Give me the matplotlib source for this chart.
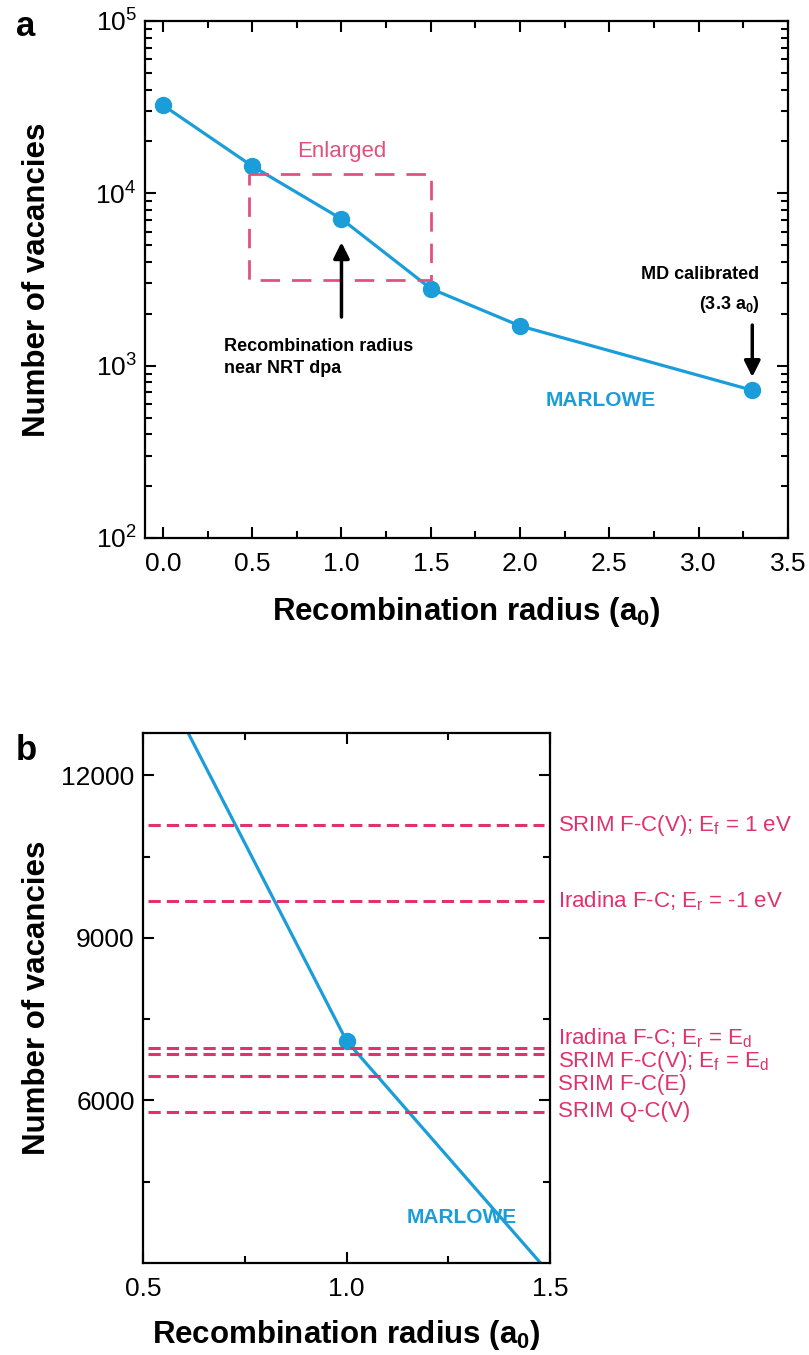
"""Vacancy count vs. recombination radius (MARLOWE) with an enlarged linear view."""
import matplotlib
matplotlib.use("Agg")
import matplotlib.pyplot as plt
from matplotlib.ticker import LogLocator, MultipleLocator, FixedLocator, NullFormatter

# MARLOWE vacancies for each recombination radius
radius = [0.0, 0.5, 1.0, 1.5, 2.0, 3.3]
vacancies = [32500, 14400, 7100, 2800, 1700, 720]

# reference (SRIM / Iradina) vacancy counts for panel b
ref_levels = [11080, 9685, 6960, 6865, 6455, 5790]
ref_labels = [
    r"SRIM F-C(V); E$_\mathrm{f}$ = 1 eV",
    r"Iradina F-C; E$_\mathrm{r}$ = -1 eV",
    r"Iradina F-C; E$_\mathrm{r}$ = E$_\mathrm{d}$",
    r"SRIM F-C(V); E$_\mathrm{f}$ = E$_\mathrm{d}$",
    r"SRIM F-C(E)",
    r"SRIM Q-C(V)",
]

BLUE = "#1b9dd9"
PINK = "#e0336d"
BOX_PINK = "#e2507f"
FONT = "Liberation Sans"

plt.rcParams["font.family"] = [FONT, "DejaVu Sans"]
plt.rcParams["mathtext.fontset"] = "custom"
plt.rcParams["mathtext.rm"] = FONT
plt.rcParams["mathtext.it"] = FONT + ":italic"
plt.rcParams["mathtext.bf"] = FONT + ":bold"

fig = plt.figure(figsize=(8.09, 13.55), dpi=100)
W, H = 809, 1355
XLABEL = r"Recombination radius (a$_{\mathbf{0}}$)"


def style_axes(ax):
    for sp in ax.spines.values():
        sp.set_linewidth(1.6)
    ax.tick_params(which="both", direction="in", top=True, right=True,
                   width=1.5, labelsize=19)
    ax.tick_params(axis="x", which="both", pad=10)
    ax.tick_params(axis="y", which="both", pad=6)
    ax.tick_params(which="major", length=8)
    ax.tick_params(which="minor", length=5)


# ---- panel a: log scale overview ----
ax_a = fig.add_axes([145 / W, 1 - 538 / H, (788 - 145) / W, (538 - 21) / H])
ax_a.plot(radius, vacancies, color=BLUE, lw=2.3, marker="o", ms=11.5)
ax_a.set_yscale("log")
ax_a.set_xlim(-0.1, 3.5)
ax_a.set_ylim(1e2, 1e5)
ax_a.xaxis.set_major_locator(MultipleLocator(0.5))
ax_a.xaxis.set_minor_locator(MultipleLocator(0.25))
ax_a.yaxis.set_major_locator(LogLocator(base=10, numticks=10))
ax_a.yaxis.set_minor_locator(LogLocator(base=10, subs=range(2, 10), numticks=10))
ax_a.yaxis.set_minor_formatter(NullFormatter())
style_axes(ax_a)
ax_a.set_xlabel(XLABEL, fontsize=22.5, fontweight="bold", labelpad=14)
ax_a.set_ylabel("Number of vacancies", fontsize=22.5, fontweight="bold")
ax_a.yaxis.set_label_coords(-0.145, 0.5)

# enlarged region box
box_x = [0.48, 1.5, 1.5, 0.48, 0.48]
box_y = [12900, 12900, 3150, 3150, 12900]
ax_a.plot(box_x, box_y, color=BOX_PINK, lw=2.0, dashes=(7, 4.3))
ax_a.text(1.0, 17600, "Enlarged", color=BOX_PINK, fontsize=16,
          ha="center", va="center")

arrow = dict(arrowstyle="-|>", color="black", lw=2.5, mutation_scale=24,
             shrinkA=0, shrinkB=0)
ax_a.annotate("", xy=(1.0, 5200), xytext=(1.0, 1915), arrowprops=arrow)
ax_a.text(0.34, 1450, "Recombination radius\nnear NRT dpa", fontsize=13,
          fontweight="bold", ha="left", va="top", linespacing=1.4)

ax_a.annotate("", xy=(3.3, 860), xytext=(3.3, 1720), arrowprops=arrow)
ax_a.text(3.34, 3360, "MD calibrated", fontsize=13, fontweight="bold",
          ha="right", va="center")
ax_a.text(3.34, 2250, r"(3.3 a$_{\mathbf{0}}$)", fontsize=13, fontweight="bold",
          ha="right", va="center")
ax_a.text(2.45, 630, "MARLOWE", color=BLUE, fontsize=15, fontweight="bold",
          ha="center", va="center")

fig.text(26 / W, 1 - 27 / H, "a", fontsize=25, fontweight="bold",
         ha="center", va="center")

# ---- panel b: linear zoom around 1 a0 ----
ax_b = fig.add_axes([143 / W, 1 - 1263 / H, (550 - 143) / W, (1263 - 733) / H])
ax_b.plot(radius, vacancies, color=BLUE, lw=2.3)
ax_b.plot(radius[2], vacancies[2], "o", color=BLUE, ms=11.5)
for lvl in ref_levels:
    ax_b.plot([0.513, 1.485], [lvl, lvl], color=PINK, lw=2.2, dashes=(4, 2))
ax_b.set_xlim(0.5, 1.5)
ax_b.set_ylim(3000, 12780)
ax_b.xaxis.set_major_locator(FixedLocator([0.5, 1.0, 1.5]))
ax_b.xaxis.set_minor_locator(FixedLocator([0.75, 1.25]))
ax_b.yaxis.set_major_locator(FixedLocator([6000, 9000, 12000]))
ax_b.yaxis.set_minor_locator(FixedLocator([4500, 7500, 10500]))
style_axes(ax_b)
ax_b.set_xticklabels(["0.5", "1.0", "1.5"])
ax_b.set_xlabel(XLABEL, fontsize=22.5, fontweight="bold", labelpad=12)
ax_b.set_ylabel("Number of vacancies", fontsize=22.5, fontweight="bold")
ax_b.yaxis.set_label_coords(-0.224, 0.5)

label_y = [11080, 9685, 7140, 6720, 6300, 5790]
for lbl, y in zip(ref_labels, label_y):
    ax_b.text(1.52, y, lbl, color=PINK, fontsize=16, ha="left", va="center",
              clip_on=False)

ax_b.text(1.284, 3840, "MARLOWE", color=BLUE, fontsize=15, fontweight="bold",
          ha="center", va="center")

fig.text(26 / W, 1 - 750 / H, "b", fontsize=25, fontweight="bold",
         ha="center", va="center")

fig.savefig("out.png", dpi=100)
